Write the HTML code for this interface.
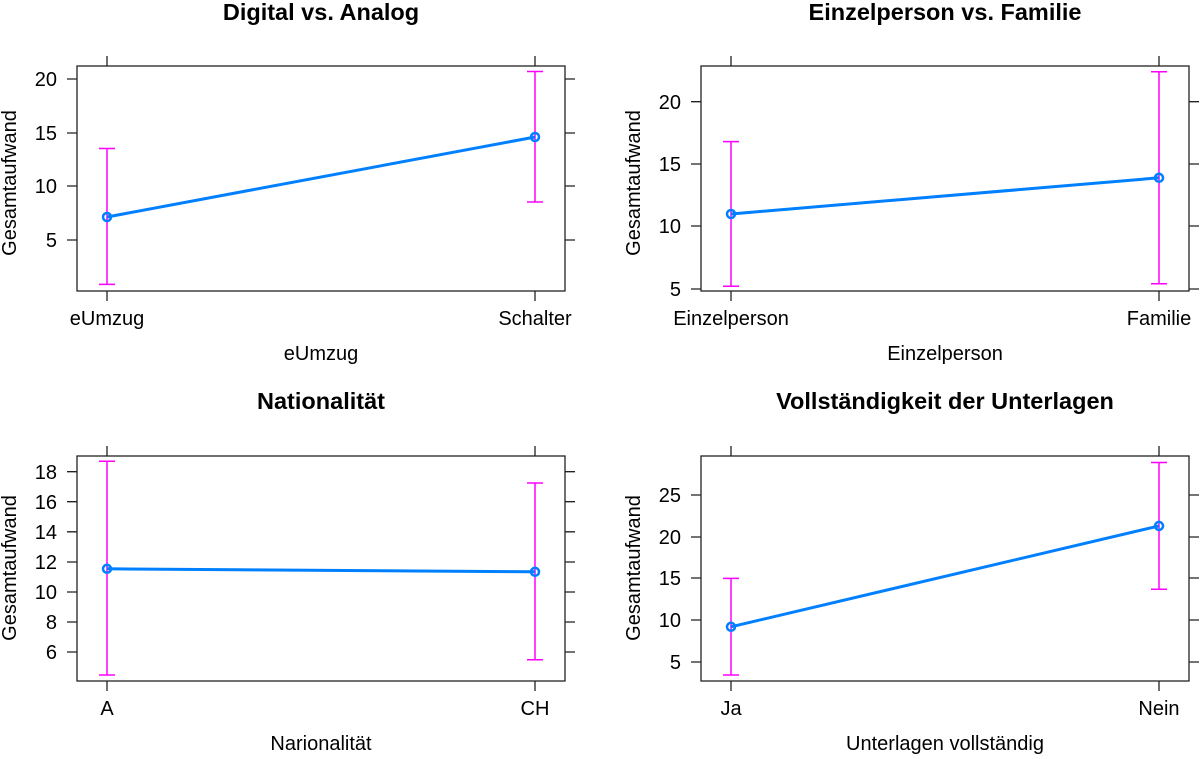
<!DOCTYPE html>
<html><head><meta charset="utf-8"><style>
html,body{margin:0;padding:0;background:#fff;}
svg text{font-family:"Liberation Sans",Arial,sans-serif;fill:#000;}
.t{font-size:23.5px;font-weight:bold;text-anchor:middle;}
.l{font-size:20px;}
.ax{stroke:#222;stroke-width:1.3;fill:none;}
.ci{stroke:#ff00ff;stroke-width:1.5;fill:none;}
.ln{stroke:#0080ff;stroke-width:3;fill:none;}
.pt{stroke:#0080ff;stroke-width:2.5;fill:none;}
</style></head><body>
<svg width="1200" height="754" viewBox="0 0 1200 754" xmlns="http://www.w3.org/2000/svg">
<!-- TL -->
<text class="t" x="321" y="20">Digital vs. Analog</text>
<rect class="ax" x="77" y="66" width="488" height="225"/>
<path class="ax" d="M107 56V66M535 56V66M107 291V301M535 291V301M67 79H77M67 133H77M67 186H77M67 240H77M565 79H575M565 133H575M565 186H575M565 240H575"/>
<g class="l" text-anchor="end"><text x="57" y="86">20</text><text x="57" y="140">15</text><text x="57" y="193">10</text><text x="57" y="247">5</text></g>
<g class="l" text-anchor="middle"><text x="107" y="325">eUmzug</text><text x="535" y="325">Schalter</text><text x="321" y="360">eUmzug</text></g>
<text class="l" text-anchor="middle" transform="translate(16,183) rotate(-90)">Gesamtaufwand</text>
<path class="ci" d="M107 148.5V284.4M99 148.5H115M99 284.4H115M535 71.5V202M527 71.5H543M527 202H543"/>
<path class="ln" d="M107 217L535 137"/>
<circle class="pt" cx="107" cy="217" r="4"/><circle class="pt" cx="535" cy="137" r="4"/>
<!-- TR -->
<text class="t" x="945" y="20">Einzelperson vs. Familie</text>
<rect class="ax" x="701" y="66" width="488" height="225"/>
<path class="ax" d="M731 56V66M1159 56V66M731 291V301M1159 291V301M691 101.7H701M691 164H701M691 226H701M691 289H701M1189 101.7H1199M1189 164H1199M1189 226H1199M1189 289H1199"/>
<g class="l" text-anchor="end"><text x="681" y="109">20</text><text x="681" y="171">15</text><text x="681" y="233">10</text><text x="681" y="296">5</text></g>
<g class="l" text-anchor="middle"><text x="731" y="325">Einzelperson</text><text x="1159" y="325">Familie</text><text x="945" y="360">Einzelperson</text></g>
<text class="l" text-anchor="middle" transform="translate(640,183) rotate(-90)">Gesamtaufwand</text>
<path class="ci" d="M731 141.6V286.3M723 141.6H739M723 286.3H739M1159 71.8V283.8M1151 71.8H1167M1151 283.8H1167"/>
<path class="ln" d="M731 214L1159 177.8"/>
<circle class="pt" cx="731" cy="214" r="4"/><circle class="pt" cx="1159" cy="177.8" r="4"/>
<!-- BL -->
<text class="t" x="321" y="409">Nationalität</text>
<rect class="ax" x="77" y="456" width="488" height="225"/>
<path class="ax" d="M107 446V456M535 446V456M107 681V691M535 681V691M67 471.7H77M67 501.7H77M67 531.8H77M67 562H77M67 592H77M67 622H77M67 652H77M565 471.7H575M565 501.7H575M565 531.8H575M565 562H575M565 592H575M565 622H575M565 652H575"/>
<g class="l" text-anchor="end"><text x="57" y="479">18</text><text x="57" y="509">16</text><text x="57" y="539">14</text><text x="57" y="569">12</text><text x="57" y="599">10</text><text x="57" y="629">8</text><text x="57" y="659">6</text></g>
<g class="l" text-anchor="middle"><text x="107" y="715">A</text><text x="535" y="715">CH</text><text x="321" y="750">Narionalität</text></g>
<text class="l" text-anchor="middle" transform="translate(16,568) rotate(-90)">Gesamtaufwand</text>
<path class="ci" d="M107 461.2V675M99 461.2H115M99 675H115M535 483V659.8M527 483H543M527 659.8H543"/>
<path class="ln" d="M107 568.8L535 571.8"/>
<circle class="pt" cx="107" cy="568.8" r="4"/><circle class="pt" cx="535" cy="571.8" r="4"/>
<!-- BR -->
<text class="t" x="945" y="409">Vollständigkeit der Unterlagen</text>
<rect class="ax" x="701" y="456" width="488" height="225"/>
<path class="ax" d="M731 446V456M1159 446V456M731 681V691M1159 681V691M691 495H701M691 537H701M691 578H701M691 620H701M691 662H701M1189 495H1199M1189 537H1199M1189 578H1199M1189 620H1199M1189 662H1199"/>
<g class="l" text-anchor="end"><text x="681" y="502">25</text><text x="681" y="544">20</text><text x="681" y="585">15</text><text x="681" y="627">10</text><text x="681" y="669">5</text></g>
<g class="l" text-anchor="middle"><text x="731" y="715">Ja</text><text x="1159" y="715">Nein</text><text x="945" y="750">Unterlagen vollständig</text></g>
<text class="l" text-anchor="middle" transform="translate(640,568) rotate(-90)">Gesamtaufwand</text>
<path class="ci" d="M731 578.4V675M723 578.4H739M723 675H739M1159 462.5V589.2M1151 462.5H1167M1151 589.2H1167"/>
<path class="ln" d="M731 626.8L1159 525.9"/>
<circle class="pt" cx="731" cy="626.8" r="4"/><circle class="pt" cx="1159" cy="525.9" r="4"/>
</svg>
</body></html>
